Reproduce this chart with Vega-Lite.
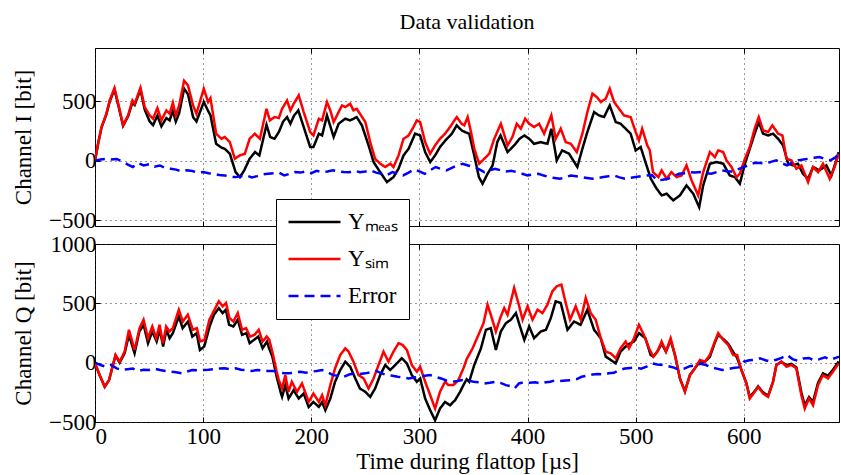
{
"$schema": "https://vega.github.io/schema/vega-lite/v6.json",
"padding": {"left": 12, "top": 10, "right": 1, "bottom": 0},
"spacing": 18,
"bounds": "flush",
"datasets": {
"d": [
{"p":"I","s":"m","t":0,"v":0},{"p":"I","s":"m","t":3,"v":150},{"p":"I","s":"m","t":6,"v":280},{"p":"I","s":"m","t":10.5,"v":390},{"p":"I","s":"m","t":13.6,"v":500},{"p":"I","s":"m","t":18,"v":600},{"p":"I","s":"m","t":22,"v":450},{"p":"I","s":"m","t":26,"v":295},{"p":"I","s":"m","t":30.6,"v":375},{"p":"I","s":"m","t":34.6,"v":490},{"p":"I","s":"m","t":36.7,"v":470},{"p":"I","s":"m","t":42,"v":600},{"p":"I","s":"m","t":46,"v":430},{"p":"I","s":"m","t":50.6,"v":330},{"p":"I","s":"m","t":53.7,"v":300},{"p":"I","s":"m","t":57.7,"v":380},{"p":"I","s":"m","t":61.4,"v":290},{"p":"I","s":"m","t":66,"v":360},{"p":"I","s":"m","t":69,"v":340},{"p":"I","s":"m","t":72,"v":420},{"p":"I","s":"m","t":74.7,"v":330},{"p":"I","s":"m","t":77.8,"v":400},{"p":"I","s":"m","t":82.4,"v":607},{"p":"I","s":"m","t":86,"v":560},{"p":"I","s":"m","t":90.7,"v":368},{"p":"I","s":"m","t":93.8,"v":331},{"p":"I","s":"m","t":100.6,"v":495},{"p":"I","s":"m","t":104.6,"v":420},{"p":"I","s":"m","t":106.8,"v":382},{"p":"I","s":"m","t":112,"v":143},{"p":"I","s":"m","t":117,"v":110},{"p":"I","s":"m","t":120,"v":101},{"p":"I","s":"m","t":124.7,"v":59},{"p":"I","s":"m","t":130,"v":-96},{"p":"I","s":"m","t":134,"v":-138},{"p":"I","s":"m","t":138,"v":-81},{"p":"I","s":"m","t":143,"v":17},{"p":"I","s":"m","t":148,"v":73},{"p":"I","s":"m","t":152,"v":45},{"p":"I","s":"m","t":158.6,"v":303},{"p":"I","s":"m","t":162,"v":200},{"p":"I","s":"m","t":166,"v":185},{"p":"I","s":"m","t":170,"v":242},{"p":"I","s":"m","t":174,"v":330},{"p":"I","s":"m","t":177.6,"v":368},{"p":"I","s":"m","t":180.7,"v":312},{"p":"I","s":"m","t":184,"v":380},{"p":"I","s":"m","t":188,"v":424},{"p":"I","s":"m","t":193,"v":284},{"p":"I","s":"m","t":199,"v":115},{"p":"I","s":"m","t":202,"v":115},{"p":"I","s":"m","t":207,"v":228},{"p":"I","s":"m","t":210,"v":213},{"p":"I","s":"m","t":214.5,"v":382},{"p":"I","s":"m","t":220.7,"v":200},{"p":"I","s":"m","t":225.3,"v":312},{"p":"I","s":"m","t":231.4,"v":354},{"p":"I","s":"m","t":236,"v":340},{"p":"I","s":"m","t":242,"v":368},{"p":"I","s":"m","t":246.8,"v":298},{"p":"I","s":"m","t":253,"v":129},{"p":"I","s":"m","t":257.6,"v":-11},{"p":"I","s":"m","t":263.7,"v":-96},{"p":"I","s":"m","t":270,"v":-180},{"p":"I","s":"m","t":276,"v":-138},{"p":"I","s":"m","t":280.7,"v":-67},{"p":"I","s":"m","t":285.3,"v":45},{"p":"I","s":"m","t":290,"v":101},{"p":"I","s":"m","t":296,"v":228},{"p":"I","s":"m","t":300.7,"v":213},{"p":"I","s":"m","t":305.3,"v":73},{"p":"I","s":"m","t":310,"v":-11},{"p":"I","s":"m","t":314.5,"v":45},{"p":"I","s":"m","t":319,"v":115},{"p":"I","s":"m","t":324,"v":171},{"p":"I","s":"m","t":330,"v":228},{"p":"I","s":"m","t":334.5,"v":298},{"p":"I","s":"m","t":339,"v":256},{"p":"I","s":"m","t":342,"v":242},{"p":"I","s":"m","t":346,"v":228},{"p":"I","s":"m","t":350.7,"v":45},{"p":"I","s":"m","t":355,"v":-138},{"p":"I","s":"m","t":358.4,"v":-194},{"p":"I","s":"m","t":363,"v":-110},{"p":"I","s":"m","t":367.7,"v":-39},{"p":"I","s":"m","t":372,"v":157},{"p":"I","s":"m","t":375,"v":213},{"p":"I","s":"m","t":381.5,"v":73},{"p":"I","s":"m","t":387.6,"v":129},{"p":"I","s":"m","t":392.6,"v":185},{"p":"I","s":"m","t":397,"v":213},{"p":"I","s":"m","t":401.5,"v":185},{"p":"I","s":"m","t":406,"v":143},{"p":"I","s":"m","t":412,"v":157},{"p":"I","s":"m","t":418.4,"v":143},{"p":"I","s":"m","t":422,"v":270},{"p":"I","s":"m","t":427,"v":3},{"p":"I","s":"m","t":432,"v":87},{"p":"I","s":"m","t":438.4,"v":59},{"p":"I","s":"m","t":446,"v":-53},{"p":"I","s":"m","t":450.7,"v":101},{"p":"I","s":"m","t":455.3,"v":242},{"p":"I","s":"m","t":461.5,"v":410},{"p":"I","s":"m","t":466,"v":382},{"p":"I","s":"m","t":470.7,"v":368},{"p":"I","s":"m","t":476,"v":466},{"p":"I","s":"m","t":481.5,"v":326},{"p":"I","s":"m","t":486,"v":312},{"p":"I","s":"m","t":490.7,"v":270},{"p":"I","s":"m","t":495.3,"v":228},{"p":"I","s":"m","t":500,"v":87},{"p":"I","s":"m","t":504.6,"v":115},{"p":"I","s":"m","t":509,"v":-11},{"p":"I","s":"m","t":514,"v":-152},{"p":"I","s":"m","t":519.4,"v":-236},{"p":"I","s":"m","t":524,"v":-292},{"p":"I","s":"m","t":528.6,"v":-278},{"p":"I","s":"m","t":534.7,"v":-334},{"p":"I","s":"m","t":540.9,"v":-292},{"p":"I","s":"m","t":547,"v":-208},{"p":"I","s":"m","t":553.2,"v":-278},{"p":"I","s":"m","t":558.7,"v":-391},{"p":"I","s":"m","t":562.4,"v":-208},{"p":"I","s":"m","t":568.6,"v":-25},{"p":"I","s":"m","t":574.7,"v":-11},{"p":"I","s":"m","t":581,"v":-25},{"p":"I","s":"m","t":587,"v":-124},{"p":"I","s":"m","t":591.7,"v":-138},{"p":"I","s":"m","t":596.3,"v":-194},{"p":"I","s":"m","t":601,"v":-25},{"p":"I","s":"m","t":605.5,"v":101},{"p":"I","s":"m","t":610,"v":228},{"p":"I","s":"m","t":613.8,"v":326},{"p":"I","s":"m","t":617.8,"v":228},{"p":"I","s":"m","t":622.4,"v":213},{"p":"I","s":"m","t":627,"v":228},{"p":"I","s":"m","t":631.7,"v":185},{"p":"I","s":"m","t":636.3,"v":129},{"p":"I","s":"m","t":641,"v":-25},{"p":"I","s":"m","t":645.5,"v":-39},{"p":"I","s":"m","t":650,"v":-25},{"p":"I","s":"m","t":654.7,"v":-110},{"p":"I","s":"m","t":659.4,"v":-152},{"p":"I","s":"m","t":664,"v":-53},{"p":"I","s":"m","t":670,"v":-81},{"p":"I","s":"m","t":676.3,"v":-39},{"p":"I","s":"m","t":681,"v":-124},{"p":"I","s":"m","t":685.5,"v":3},{"p":"I","s":"m","t":687.7,"v":73},
{"p":"I","s":"s","t":0,"v":0},{"p":"I","s":"s","t":3,"v":150},{"p":"I","s":"s","t":6,"v":280},{"p":"I","s":"s","t":10.5,"v":396},{"p":"I","s":"s","t":13.6,"v":508},{"p":"I","s":"s","t":18,"v":613},{"p":"I","s":"s","t":22,"v":460},{"p":"I","s":"s","t":26,"v":298},{"p":"I","s":"s","t":30.6,"v":382},{"p":"I","s":"s","t":34.6,"v":508},{"p":"I","s":"s","t":36.7,"v":480},{"p":"I","s":"s","t":42,"v":615},{"p":"I","s":"s","t":46,"v":452},{"p":"I","s":"s","t":50.6,"v":382},{"p":"I","s":"s","t":53.7,"v":354},{"p":"I","s":"s","t":57.7,"v":444},{"p":"I","s":"s","t":61.4,"v":340},{"p":"I","s":"s","t":66,"v":424},{"p":"I","s":"s","t":69,"v":396},{"p":"I","s":"s","t":72,"v":489},{"p":"I","s":"s","t":74.7,"v":382},{"p":"I","s":"s","t":77.8,"v":466},{"p":"I","s":"s","t":82.4,"v":674},{"p":"I","s":"s","t":86,"v":635},{"p":"I","s":"s","t":90.7,"v":466},{"p":"I","s":"s","t":93.8,"v":396},{"p":"I","s":"s","t":100.6,"v":607},{"p":"I","s":"s","t":104.6,"v":495},{"p":"I","s":"s","t":106.8,"v":528},{"p":"I","s":"s","t":112,"v":228},{"p":"I","s":"s","t":117,"v":185},{"p":"I","s":"s","t":120,"v":200},{"p":"I","s":"s","t":124.7,"v":157},{"p":"I","s":"s","t":129.3,"v":17},{"p":"I","s":"s","t":134,"v":45},{"p":"I","s":"s","t":138.6,"v":59},{"p":"I","s":"s","t":143,"v":185},{"p":"I","s":"s","t":147.8,"v":228},{"p":"I","s":"s","t":152.5,"v":185},{"p":"I","s":"s","t":158.6,"v":438},{"p":"I","s":"s","t":161.7,"v":340},{"p":"I","s":"s","t":166,"v":368},{"p":"I","s":"s","t":170,"v":360},{"p":"I","s":"s","t":173,"v":438},{"p":"I","s":"s","t":177.6,"v":508},{"p":"I","s":"s","t":180.7,"v":424},{"p":"I","s":"s","t":183.7,"v":480},{"p":"I","s":"s","t":188.4,"v":551},{"p":"I","s":"s","t":193,"v":410},{"p":"I","s":"s","t":199,"v":242},{"p":"I","s":"s","t":202,"v":213},{"p":"I","s":"s","t":207,"v":354},{"p":"I","s":"s","t":210,"v":340},{"p":"I","s":"s","t":214.5,"v":495},{"p":"I","s":"s","t":217.6,"v":424},{"p":"I","s":"s","t":220.7,"v":326},{"p":"I","s":"s","t":225.3,"v":410},{"p":"I","s":"s","t":228.4,"v":466},{"p":"I","s":"s","t":231.4,"v":452},{"p":"I","s":"s","t":236,"v":480},{"p":"I","s":"s","t":239,"v":424},{"p":"I","s":"s","t":242,"v":438},{"p":"I","s":"s","t":245,"v":396},{"p":"I","s":"s","t":250,"v":326},{"p":"I","s":"s","t":254.5,"v":157},{"p":"I","s":"s","t":259,"v":17},{"p":"I","s":"s","t":263.7,"v":-25},{"p":"I","s":"s","t":268.4,"v":-53},{"p":"I","s":"s","t":273,"v":-25},{"p":"I","s":"s","t":276,"v":-53},{"p":"I","s":"s","t":280.7,"v":45},{"p":"I","s":"s","t":285.3,"v":185},{"p":"I","s":"s","t":290,"v":213},{"p":"I","s":"s","t":294.5,"v":284},{"p":"I","s":"s","t":297.6,"v":340},{"p":"I","s":"s","t":300.7,"v":326},{"p":"I","s":"s","t":305.3,"v":157},{"p":"I","s":"s","t":309.9,"v":59},{"p":"I","s":"s","t":314.5,"v":129},{"p":"I","s":"s","t":319,"v":185},{"p":"I","s":"s","t":323.7,"v":228},{"p":"I","s":"s","t":328.3,"v":284},{"p":"I","s":"s","t":334.5,"v":368},{"p":"I","s":"s","t":339,"v":312},{"p":"I","s":"s","t":341.5,"v":298},{"p":"I","s":"s","t":344.6,"v":368},{"p":"I","s":"s","t":347.7,"v":242},{"p":"I","s":"s","t":350.7,"v":101},{"p":"I","s":"s","t":355.3,"v":-25},{"p":"I","s":"s","t":360,"v":17},{"p":"I","s":"s","t":364.6,"v":59},{"p":"I","s":"s","t":369.2,"v":185},{"p":"I","s":"s","t":375.3,"v":312},{"p":"I","s":"s","t":381.5,"v":129},{"p":"I","s":"s","t":386,"v":200},{"p":"I","s":"s","t":390,"v":312},{"p":"I","s":"s","t":393.8,"v":270},{"p":"I","s":"s","t":397.8,"v":354},{"p":"I","s":"s","t":401.5,"v":312},{"p":"I","s":"s","t":406,"v":284},{"p":"I","s":"s","t":410.7,"v":312},{"p":"I","s":"s","t":415.3,"v":228},{"p":"I","s":"s","t":418.4,"v":298},{"p":"I","s":"s","t":422,"v":382},{"p":"I","s":"s","t":426,"v":185},{"p":"I","s":"s","t":430.7,"v":270},{"p":"I","s":"s","t":435.3,"v":157},{"p":"I","s":"s","t":440,"v":143},{"p":"I","s":"s","t":445.5,"v":73},{"p":"I","s":"s","t":450.7,"v":228},{"p":"I","s":"s","t":455.3,"v":410},{"p":"I","s":"s","t":460,"v":565},{"p":"I","s":"s","t":464,"v":537},{"p":"I","s":"s","t":467.7,"v":495},{"p":"I","s":"s","t":472.3,"v":523},{"p":"I","s":"s","t":476,"v":607},{"p":"I","s":"s","t":480,"v":495},{"p":"I","s":"s","t":484.6,"v":438},{"p":"I","s":"s","t":489.2,"v":382},{"p":"I","s":"s","t":495.3,"v":368},{"p":"I","s":"s","t":500,"v":242},{"p":"I","s":"s","t":503,"v":171},{"p":"I","s":"s","t":506,"v":270},{"p":"I","s":"s","t":510.7,"v":129},{"p":"I","s":"s","t":513,"v":90},{"p":"I","s":"s","t":516,"v":-96},{"p":"I","s":"s","t":521,"v":-138},{"p":"I","s":"s","t":524,"v":-81},{"p":"I","s":"s","t":528.6,"v":-152},{"p":"I","s":"s","t":533,"v":-96},{"p":"I","s":"s","t":537.8,"v":-138},{"p":"I","s":"s","t":542.4,"v":-124},{"p":"I","s":"s","t":547,"v":-39},{"p":"I","s":"s","t":551.7,"v":-166},{"p":"I","s":"s","t":557.8,"v":-292},{"p":"I","s":"s","t":562.4,"v":-96},{"p":"I","s":"s","t":568.6,"v":73},{"p":"I","s":"s","t":573.2,"v":31},{"p":"I","s":"s","t":576.3,"v":87},{"p":"I","s":"s","t":580.9,"v":73},{"p":"I","s":"s","t":584,"v":3},{"p":"I","s":"s","t":588.6,"v":-53},{"p":"I","s":"s","t":593.2,"v":-138},{"p":"I","s":"s","t":596.3,"v":-110},{"p":"I","s":"s","t":601,"v":17},{"p":"I","s":"s","t":605.5,"v":115},{"p":"I","s":"s","t":610,"v":270},{"p":"I","s":"s","t":613.8,"v":368},{"p":"I","s":"s","t":617.8,"v":256},{"p":"I","s":"s","t":622.4,"v":242},{"p":"I","s":"s","t":626.4,"v":298},{"p":"I","s":"s","t":631.7,"v":228},{"p":"I","s":"s","t":635.7,"v":213},{"p":"I","s":"s","t":639.4,"v":17},{"p":"I","s":"s","t":644,"v":3},{"p":"I","s":"s","t":648.6,"v":-67},{"p":"I","s":"s","t":653.2,"v":-39},{"p":"I","s":"s","t":659.4,"v":-180},{"p":"I","s":"s","t":664,"v":-53},{"p":"I","s":"s","t":668.6,"v":-96},{"p":"I","s":"s","t":673.2,"v":-25},{"p":"I","s":"s","t":679.4,"v":-152},{"p":"I","s":"s","t":684,"v":-53},{"p":"I","s":"s","t":687.7,"v":59},
{"p":"I","s":"e","t":0,"v":0},{"p":"I","s":"e","t":5,"v":10},{"p":"I","s":"e","t":10,"v":15},{"p":"I","s":"e","t":15,"v":10},{"p":"I","s":"e","t":20,"v":15},{"p":"I","s":"e","t":25,"v":-5},{"p":"I","s":"e","t":30,"v":-30},{"p":"I","s":"e","t":35,"v":-53},{"p":"I","s":"e","t":40,"v":-20},{"p":"I","s":"e","t":45,"v":-40},{"p":"I","s":"e","t":50,"v":-30},{"p":"I","s":"e","t":55,"v":-50},{"p":"I","s":"e","t":60,"v":-40},{"p":"I","s":"e","t":65,"v":-60},{"p":"I","s":"e","t":70,"v":-67},{"p":"I","s":"e","t":75,"v":-75},{"p":"I","s":"e","t":80,"v":-90},{"p":"I","s":"e","t":85,"v":-80},{"p":"I","s":"e","t":90,"v":-87},{"p":"I","s":"e","t":95,"v":-100},{"p":"I","s":"e","t":100,"v":-96},{"p":"I","s":"e","t":105,"v":-105},{"p":"I","s":"e","t":110,"v":-110},{"p":"I","s":"e","t":115,"v":-120},{"p":"I","s":"e","t":120,"v":-124},{"p":"I","s":"e","t":125,"v":-135},{"p":"I","s":"e","t":130,"v":-138},{"p":"I","s":"e","t":135,"v":-130},{"p":"I","s":"e","t":140,"v":-124},{"p":"I","s":"e","t":145,"v":-140},{"p":"I","s":"e","t":150,"v":-130},{"p":"I","s":"e","t":155,"v":-115},{"p":"I","s":"e","t":160,"v":-110},{"p":"I","s":"e","t":165,"v":-105},{"p":"I","s":"e","t":170,"v":-100},{"p":"I","s":"e","t":175,"v":-124},{"p":"I","s":"e","t":180,"v":-110},{"p":"I","s":"e","t":185,"v":-96},{"p":"I","s":"e","t":190,"v":-100},{"p":"I","s":"e","t":195,"v":-90},{"p":"I","s":"e","t":200,"v":-104},{"p":"I","s":"e","t":205,"v":-85},{"p":"I","s":"e","t":210,"v":-96},{"p":"I","s":"e","t":215,"v":-90},{"p":"I","s":"e","t":220,"v":-81},{"p":"I","s":"e","t":225,"v":-90},{"p":"I","s":"e","t":230,"v":-95},{"p":"I","s":"e","t":235,"v":-96},{"p":"I","s":"e","t":240,"v":-85},{"p":"I","s":"e","t":245,"v":-96},{"p":"I","s":"e","t":250,"v":-90},{"p":"I","s":"e","t":255,"v":-81},{"p":"I","s":"e","t":260,"v":-100},{"p":"I","s":"e","t":265,"v":-110},{"p":"I","s":"e","t":270,"v":-120},{"p":"I","s":"e","t":275,"v":-96},{"p":"I","s":"e","t":280,"v":-110},{"p":"I","s":"e","t":285,"v":-124},{"p":"I","s":"e","t":290,"v":-100},{"p":"I","s":"e","t":295,"v":-73},{"p":"I","s":"e","t":300,"v":-90},{"p":"I","s":"e","t":305,"v":-110},{"p":"I","s":"e","t":310,"v":-80},{"p":"I","s":"e","t":315,"v":-53},{"p":"I","s":"e","t":320,"v":-70},{"p":"I","s":"e","t":325,"v":-81},{"p":"I","s":"e","t":330,"v":-60},{"p":"I","s":"e","t":335,"v":-39},{"p":"I","s":"e","t":340,"v":-25},{"p":"I","s":"e","t":345,"v":-40},{"p":"I","s":"e","t":350,"v":-53},{"p":"I","s":"e","t":355,"v":-70},{"p":"I","s":"e","t":360,"v":-96},{"p":"I","s":"e","t":365,"v":-80},{"p":"I","s":"e","t":370,"v":-67},{"p":"I","s":"e","t":375,"v":-80},{"p":"I","s":"e","t":380,"v":-90},{"p":"I","s":"e","t":385,"v":-85},{"p":"I","s":"e","t":390,"v":-96},{"p":"I","s":"e","t":395,"v":-110},{"p":"I","s":"e","t":400,"v":-124},{"p":"I","s":"e","t":405,"v":-115},{"p":"I","s":"e","t":410,"v":-110},{"p":"I","s":"e","t":415,"v":-125},{"p":"I","s":"e","t":420,"v":-138},{"p":"I","s":"e","t":425,"v":-145},{"p":"I","s":"e","t":430,"v":-152},{"p":"I","s":"e","t":435,"v":-140},{"p":"I","s":"e","t":440,"v":-124},{"p":"I","s":"e","t":445,"v":-130},{"p":"I","s":"e","t":450,"v":-138},{"p":"I","s":"e","t":455,"v":-145},{"p":"I","s":"e","t":460,"v":-152},{"p":"I","s":"e","t":465,"v":-145},{"p":"I","s":"e","t":470,"v":-138},{"p":"I","s":"e","t":475,"v":-130},{"p":"I","s":"e","t":480,"v":-124},{"p":"I","s":"e","t":485,"v":-140},{"p":"I","s":"e","t":490,"v":-152},{"p":"I","s":"e","t":495,"v":-145},{"p":"I","s":"e","t":500,"v":-138},{"p":"I","s":"e","t":505,"v":-130},{"p":"I","s":"e","t":510,"v":-124},{"p":"I","s":"e","t":515,"v":-120},{"p":"I","s":"e","t":520,"v":-166},{"p":"I","s":"e","t":525,"v":-160},{"p":"I","s":"e","t":530,"v":-152},{"p":"I","s":"e","t":535,"v":-130},{"p":"I","s":"e","t":540,"v":-110},{"p":"I","s":"e","t":545,"v":-105},{"p":"I","s":"e","t":550,"v":-96},{"p":"I","s":"e","t":555,"v":-100},{"p":"I","s":"e","t":560,"v":-96},{"p":"I","s":"e","t":565,"v":-105},{"p":"I","s":"e","t":570,"v":-110},{"p":"I","s":"e","t":575,"v":-95},{"p":"I","s":"e","t":580,"v":-81},{"p":"I","s":"e","t":585,"v":-90},{"p":"I","s":"e","t":590,"v":-90},{"p":"I","s":"e","t":595,"v":-70},{"p":"I","s":"e","t":600,"v":-53},{"p":"I","s":"e","t":605,"v":-35},{"p":"I","s":"e","t":610,"v":-17},{"p":"I","s":"e","t":615,"v":-20},{"p":"I","s":"e","t":620,"v":-25},{"p":"I","s":"e","t":625,"v":-10},{"p":"I","s":"e","t":630,"v":3},{"p":"I","s":"e","t":635,"v":-20},{"p":"I","s":"e","t":640,"v":-39},{"p":"I","s":"e","t":645,"v":-15},{"p":"I","s":"e","t":650,"v":3},{"p":"I","s":"e","t":655,"v":10},{"p":"I","s":"e","t":660,"v":17},{"p":"I","s":"e","t":665,"v":25},{"p":"I","s":"e","t":670,"v":31},{"p":"I","s":"e","t":675,"v":15},{"p":"I","s":"e","t":680,"v":3},{"p":"I","s":"e","t":685,"v":30},{"p":"I","s":"e","t":688,"v":59},
{"p":"Q","s":"m","t":0,"v":-6},{"p":"Q","s":"m","t":4.3,"v":-105},{"p":"Q","s":"m","t":9,"v":-203},{"p":"Q","s":"m","t":13,"v":-147},{"p":"Q","s":"m","t":16.6,"v":-20},{"p":"Q","s":"m","t":19,"v":60},{"p":"Q","s":"m","t":22.8,"v":0},{"p":"Q","s":"m","t":27.4,"v":80},{"p":"Q","s":"m","t":31.4,"v":234},{"p":"Q","s":"m","t":36.6,"v":79},{"p":"Q","s":"m","t":41,"v":263},{"p":"Q","s":"m","t":45,"v":319},{"p":"Q","s":"m","t":49,"v":164},{"p":"Q","s":"m","t":53,"v":263},{"p":"Q","s":"m","t":57,"v":178},{"p":"Q","s":"m","t":60,"v":277},{"p":"Q","s":"m","t":63,"v":136},{"p":"Q","s":"m","t":66,"v":277},{"p":"Q","s":"m","t":69,"v":206},{"p":"Q","s":"m","t":72,"v":249},{"p":"Q","s":"m","t":77.5,"v":390},{"p":"Q","s":"m","t":81,"v":291},{"p":"Q","s":"m","t":86,"v":347},{"p":"Q","s":"m","t":90,"v":220},{"p":"Q","s":"m","t":94,"v":249},{"p":"Q","s":"m","t":97,"v":107},{"p":"Q","s":"m","t":101,"v":136},{"p":"Q","s":"m","t":106,"v":305},{"p":"Q","s":"m","t":110,"v":404},{"p":"Q","s":"m","t":114.5,"v":460},{"p":"Q","s":"m","t":118,"v":418},{"p":"Q","s":"m","t":121,"v":446},{"p":"Q","s":"m","t":124,"v":319},{"p":"Q","s":"m","t":128,"v":305},{"p":"Q","s":"m","t":132,"v":362},{"p":"Q","s":"m","t":136,"v":234},{"p":"Q","s":"m","t":140,"v":249},{"p":"Q","s":"m","t":143,"v":164},{"p":"Q","s":"m","t":147,"v":192},{"p":"Q","s":"m","t":151,"v":220},{"p":"Q","s":"m","t":155,"v":121},{"p":"Q","s":"m","t":159,"v":178},{"p":"Q","s":"m","t":161,"v":121},{"p":"Q","s":"m","t":164,"v":51},{"p":"Q","s":"m","t":168,"v":-119},{"p":"Q","s":"m","t":172,"v":-260},{"p":"Q","s":"m","t":173,"v":-288},{"p":"Q","s":"m","t":176,"v":-189},{"p":"Q","s":"m","t":179,"v":-302},{"p":"Q","s":"m","t":183.7,"v":-232},{"p":"Q","s":"m","t":188.4,"v":-302},{"p":"Q","s":"m","t":193,"v":-260},{"p":"Q","s":"m","t":197.6,"v":-373},{"p":"Q","s":"m","t":202,"v":-331},{"p":"Q","s":"m","t":207,"v":-373},{"p":"Q","s":"m","t":210,"v":-331},{"p":"Q","s":"m","t":213,"v":-401},{"p":"Q","s":"m","t":217.6,"v":-302},{"p":"Q","s":"m","t":222,"v":-161},{"p":"Q","s":"m","t":226.8,"v":-62},{"p":"Q","s":"m","t":231.4,"v":8},{"p":"Q","s":"m","t":236,"v":-34},{"p":"Q","s":"m","t":240.7,"v":-133},{"p":"Q","s":"m","t":245,"v":-218},{"p":"Q","s":"m","t":250,"v":-246},{"p":"Q","s":"m","t":254.5,"v":-288},{"p":"Q","s":"m","t":259,"v":-218},{"p":"Q","s":"m","t":263.7,"v":-105},{"p":"Q","s":"m","t":268.4,"v":-20},{"p":"Q","s":"m","t":273,"v":-62},{"p":"Q","s":"m","t":277.6,"v":-20},{"p":"Q","s":"m","t":283.7,"v":37},{"p":"Q","s":"m","t":288.4,"v":-6},{"p":"Q","s":"m","t":293,"v":-105},{"p":"Q","s":"m","t":297.6,"v":-161},{"p":"Q","s":"m","t":300.7,"v":-133},{"p":"Q","s":"m","t":305.3,"v":-302},{"p":"Q","s":"m","t":310,"v":-401},{"p":"Q","s":"m","t":314.5,"v":-486},{"p":"Q","s":"m","t":319,"v":-387},{"p":"Q","s":"m","t":323.7,"v":-331},{"p":"Q","s":"m","t":328.3,"v":-359},{"p":"Q","s":"m","t":333,"v":-316},{"p":"Q","s":"m","t":337.6,"v":-246},{"p":"Q","s":"m","t":340.7,"v":-189},{"p":"Q","s":"m","t":343.7,"v":-140},{"p":"Q","s":"m","t":346,"v":-161},{"p":"Q","s":"m","t":350.7,"v":-20},{"p":"Q","s":"m","t":356.9,"v":121},{"p":"Q","s":"m","t":361.5,"v":277},{"p":"Q","s":"m","t":366,"v":291},{"p":"Q","s":"m","t":370.7,"v":107},{"p":"Q","s":"m","t":375.3,"v":263},{"p":"Q","s":"m","t":380,"v":333},{"p":"Q","s":"m","t":384.6,"v":362},{"p":"Q","s":"m","t":389.2,"v":418},{"p":"Q","s":"m","t":394,"v":277},{"p":"Q","s":"m","t":397,"v":192},{"p":"Q","s":"m","t":401.5,"v":305},{"p":"Q","s":"m","t":406,"v":206},{"p":"Q","s":"m","t":412.3,"v":263},{"p":"Q","s":"m","t":417,"v":277},{"p":"Q","s":"m","t":421.5,"v":376},{"p":"Q","s":"m","t":426,"v":517},{"p":"Q","s":"m","t":430.7,"v":503},{"p":"Q","s":"m","t":436.9,"v":277},{"p":"Q","s":"m","t":443,"v":347},{"p":"Q","s":"m","t":449,"v":319},{"p":"Q","s":"m","t":455.3,"v":446},{"p":"Q","s":"m","t":461.5,"v":277},{"p":"Q","s":"m","t":467.7,"v":206},{"p":"Q","s":"m","t":472.3,"v":51},{"p":"Q","s":"m","t":476.9,"v":23},{"p":"Q","s":"m","t":481.5,"v":-6},{"p":"Q","s":"m","t":486,"v":93},{"p":"Q","s":"m","t":492.3,"v":150},{"p":"Q","s":"m","t":498.4,"v":178},{"p":"Q","s":"m","t":503,"v":249},{"p":"Q","s":"m","t":509,"v":206},{"p":"Q","s":"m","t":513.8,"v":65},{"p":"Q","s":"m","t":516.3,"v":51},{"p":"Q","s":"m","t":520,"v":93},{"p":"Q","s":"m","t":524,"v":160},{"p":"Q","s":"m","t":528,"v":93},{"p":"Q","s":"m","t":532.3,"v":190},{"p":"Q","s":"m","t":536.3,"v":65},{"p":"Q","s":"m","t":540.9,"v":-133},{"p":"Q","s":"m","t":545.5,"v":-240},{"p":"Q","s":"m","t":550.1,"v":-105},{"p":"Q","s":"m","t":554.7,"v":-48},{"p":"Q","s":"m","t":559.4,"v":10},{"p":"Q","s":"m","t":564,"v":8},{"p":"Q","s":"m","t":568.6,"v":50},{"p":"Q","s":"m","t":573.2,"v":170},{"p":"Q","s":"m","t":576.3,"v":235},{"p":"Q","s":"m","t":580.9,"v":200},{"p":"Q","s":"m","t":585.5,"v":160},{"p":"Q","s":"m","t":590.1,"v":90},{"p":"Q","s":"m","t":593.8,"v":40},{"p":"Q","s":"m","t":597.8,"v":-62},{"p":"Q","s":"m","t":602.4,"v":-175},{"p":"Q","s":"m","t":605.5,"v":-290},{"p":"Q","s":"m","t":610.1,"v":-240},{"p":"Q","s":"m","t":613.2,"v":-200},{"p":"Q","s":"m","t":617.8,"v":-250},{"p":"Q","s":"m","t":622.4,"v":-280},{"p":"Q","s":"m","t":627,"v":-161},{"p":"Q","s":"m","t":630.1,"v":-20},{"p":"Q","s":"m","t":634.7,"v":8},{"p":"Q","s":"m","t":639.4,"v":-20},{"p":"Q","s":"m","t":644,"v":-10},{"p":"Q","s":"m","t":648.6,"v":-40},{"p":"Q","s":"m","t":653.2,"v":-250},{"p":"Q","s":"m","t":656.3,"v":-360},{"p":"Q","s":"m","t":660.3,"v":-290},{"p":"Q","s":"m","t":664,"v":-330},{"p":"Q","s":"m","t":668.6,"v":-170},{"p":"Q","s":"m","t":673.2,"v":-90},{"p":"Q","s":"m","t":677.8,"v":-110},{"p":"Q","s":"m","t":682.4,"v":-60},{"p":"Q","s":"m","t":687.7,"v":10},
{"p":"Q","s":"s","t":0,"v":-6},{"p":"Q","s":"s","t":4.3,"v":-105},{"p":"Q","s":"s","t":9,"v":-203},{"p":"Q","s":"s","t":13,"v":-147},{"p":"Q","s":"s","t":16.6,"v":-20},{"p":"Q","s":"s","t":19,"v":65},{"p":"Q","s":"s","t":22.8,"v":8},{"p":"Q","s":"s","t":27.4,"v":93},{"p":"Q","s":"s","t":31.4,"v":277},{"p":"Q","s":"s","t":36.6,"v":107},{"p":"Q","s":"s","t":41.2,"v":291},{"p":"Q","s":"s","t":44.9,"v":362},{"p":"Q","s":"s","t":49,"v":206},{"p":"Q","s":"s","t":53,"v":305},{"p":"Q","s":"s","t":56.6,"v":206},{"p":"Q","s":"s","t":59.7,"v":319},{"p":"Q","s":"s","t":62.8,"v":164},{"p":"Q","s":"s","t":65.8,"v":305},{"p":"Q","s":"s","t":68.9,"v":263},{"p":"Q","s":"s","t":72,"v":291},{"p":"Q","s":"s","t":77.5,"v":446},{"p":"Q","s":"s","t":81.2,"v":347},{"p":"Q","s":"s","t":85.8,"v":404},{"p":"Q","s":"s","t":90.5,"v":277},{"p":"Q","s":"s","t":94.2,"v":291},{"p":"Q","s":"s","t":97.2,"v":178},{"p":"Q","s":"s","t":101.2,"v":192},{"p":"Q","s":"s","t":105.8,"v":362},{"p":"Q","s":"s","t":110.5,"v":446},{"p":"Q","s":"s","t":114.5,"v":517},{"p":"Q","s":"s","t":118.1,"v":475},{"p":"Q","s":"s","t":121.2,"v":503},{"p":"Q","s":"s","t":124.3,"v":376},{"p":"Q","s":"s","t":128,"v":347},{"p":"Q","s":"s","t":132,"v":418},{"p":"Q","s":"s","t":136,"v":277},{"p":"Q","s":"s","t":139.7,"v":291},{"p":"Q","s":"s","t":143.4,"v":220},{"p":"Q","s":"s","t":147.4,"v":234},{"p":"Q","s":"s","t":151.4,"v":277},{"p":"Q","s":"s","t":155,"v":178},{"p":"Q","s":"s","t":158.8,"v":220},{"p":"Q","s":"s","t":161.2,"v":192},{"p":"Q","s":"s","t":164.3,"v":79},{"p":"Q","s":"s","t":168,"v":-76},{"p":"Q","s":"s","t":170,"v":-147},{"p":"Q","s":"s","t":173,"v":-218},{"p":"Q","s":"s","t":176,"v":-105},{"p":"Q","s":"s","t":179,"v":-246},{"p":"Q","s":"s","t":182,"v":-161},{"p":"Q","s":"s","t":186.8,"v":-246},{"p":"Q","s":"s","t":191.4,"v":-175},{"p":"Q","s":"s","t":197.6,"v":-331},{"p":"Q","s":"s","t":202,"v":-260},{"p":"Q","s":"s","t":207,"v":-331},{"p":"Q","s":"s","t":210,"v":-274},{"p":"Q","s":"s","t":213,"v":-359},{"p":"Q","s":"s","t":217.6,"v":-189},{"p":"Q","s":"s","t":222,"v":-48},{"p":"Q","s":"s","t":226.8,"v":65},{"p":"Q","s":"s","t":231.4,"v":121},{"p":"Q","s":"s","t":234.5,"v":93},{"p":"Q","s":"s","t":239,"v":8},{"p":"Q","s":"s","t":243.7,"v":-105},{"p":"Q","s":"s","t":248.4,"v":-133},{"p":"Q","s":"s","t":253,"v":-218},{"p":"Q","s":"s","t":257.6,"v":-133},{"p":"Q","s":"s","t":262.2,"v":-20},{"p":"Q","s":"s","t":266.8,"v":93},{"p":"Q","s":"s","t":271.4,"v":8},{"p":"Q","s":"s","t":276,"v":93},{"p":"Q","s":"s","t":280.7,"v":164},{"p":"Q","s":"s","t":284.4,"v":150},{"p":"Q","s":"s","t":288.4,"v":107},{"p":"Q","s":"s","t":293,"v":-20},{"p":"Q","s":"s","t":297.6,"v":-76},{"p":"Q","s":"s","t":300.7,"v":-34},{"p":"Q","s":"s","t":305.3,"v":-161},{"p":"Q","s":"s","t":310,"v":-274},{"p":"Q","s":"s","t":314.5,"v":-387},{"p":"Q","s":"s","t":319,"v":-246},{"p":"Q","s":"s","t":323.7,"v":-161},{"p":"Q","s":"s","t":326.8,"v":-189},{"p":"Q","s":"s","t":331.4,"v":-189},{"p":"Q","s":"s","t":336,"v":-147},{"p":"Q","s":"s","t":340.7,"v":-48},{"p":"Q","s":"s","t":343.7,"v":30},{"p":"Q","s":"s","t":349.2,"v":121},{"p":"Q","s":"s","t":355.3,"v":249},{"p":"Q","s":"s","t":359.3,"v":333},{"p":"Q","s":"s","t":363,"v":489},{"p":"Q","s":"s","t":366,"v":404},{"p":"Q","s":"s","t":370.7,"v":263},{"p":"Q","s":"s","t":374.7,"v":376},{"p":"Q","s":"s","t":378.4,"v":460},{"p":"Q","s":"s","t":381.5,"v":404},{"p":"Q","s":"s","t":387.6,"v":630},{"p":"Q","s":"s","t":392.3,"v":475},{"p":"Q","s":"s","t":395.4,"v":362},{"p":"Q","s":"s","t":400,"v":475},{"p":"Q","s":"s","t":404.6,"v":362},{"p":"Q","s":"s","t":409.2,"v":446},{"p":"Q","s":"s","t":413.8,"v":418},{"p":"Q","s":"s","t":418.4,"v":489},{"p":"Q","s":"s","t":423,"v":602},{"p":"Q","s":"s","t":427,"v":644},{"p":"Q","s":"s","t":431.3,"v":658},{"p":"Q","s":"s","t":435.3,"v":503},{"p":"Q","s":"s","t":439.3,"v":362},{"p":"Q","s":"s","t":444.5,"v":475},{"p":"Q","s":"s","t":449.2,"v":362},{"p":"Q","s":"s","t":453.8,"v":545},{"p":"Q","s":"s","t":458.4,"v":418},{"p":"Q","s":"s","t":463,"v":362},{"p":"Q","s":"s","t":467.7,"v":206},{"p":"Q","s":"s","t":472.3,"v":93},{"p":"Q","s":"s","t":476.9,"v":79},{"p":"Q","s":"s","t":481.5,"v":37},{"p":"Q","s":"s","t":486,"v":121},{"p":"Q","s":"s","t":490.7,"v":178},{"p":"Q","s":"s","t":493.8,"v":121},{"p":"Q","s":"s","t":498.4,"v":206},{"p":"Q","s":"s","t":503,"v":319},{"p":"Q","s":"s","t":507.6,"v":234},{"p":"Q","s":"s","t":512.3,"v":121},{"p":"Q","s":"s","t":516.3,"v":51},{"p":"Q","s":"s","t":520,"v":93},{"p":"Q","s":"s","t":524,"v":178},{"p":"Q","s":"s","t":528,"v":93},{"p":"Q","s":"s","t":532.3,"v":206},{"p":"Q","s":"s","t":536.3,"v":65},{"p":"Q","s":"s","t":540.9,"v":-133},{"p":"Q","s":"s","t":545.5,"v":-246},{"p":"Q","s":"s","t":550.1,"v":-105},{"p":"Q","s":"s","t":554.7,"v":-48},{"p":"Q","s":"s","t":559.4,"v":23},{"p":"Q","s":"s","t":564,"v":8},{"p":"Q","s":"s","t":568.6,"v":65},{"p":"Q","s":"s","t":573.2,"v":178},{"p":"Q","s":"s","t":576.3,"v":249},{"p":"Q","s":"s","t":580.9,"v":192},{"p":"Q","s":"s","t":585.5,"v":150},{"p":"Q","s":"s","t":590.1,"v":65},{"p":"Q","s":"s","t":593.8,"v":65},{"p":"Q","s":"s","t":597.8,"v":-62},{"p":"Q","s":"s","t":602.4,"v":-175},{"p":"Q","s":"s","t":605.5,"v":-302},{"p":"Q","s":"s","t":610.1,"v":-246},{"p":"Q","s":"s","t":613.2,"v":-203},{"p":"Q","s":"s","t":617.8,"v":-260},{"p":"Q","s":"s","t":622.4,"v":-288},{"p":"Q","s":"s","t":627,"v":-161},{"p":"Q","s":"s","t":630.1,"v":-20},{"p":"Q","s":"s","t":634.7,"v":8},{"p":"Q","s":"s","t":639.4,"v":-34},{"p":"Q","s":"s","t":644,"v":-20},{"p":"Q","s":"s","t":648.6,"v":-48},{"p":"Q","s":"s","t":653.2,"v":-274},{"p":"Q","s":"s","t":656.3,"v":-387},{"p":"Q","s":"s","t":660.3,"v":-302},{"p":"Q","s":"s","t":664,"v":-359},{"p":"Q","s":"s","t":668.6,"v":-189},{"p":"Q","s":"s","t":673.2,"v":-105},{"p":"Q","s":"s","t":677.8,"v":-133},{"p":"Q","s":"s","t":682.4,"v":-76},{"p":"Q","s":"s","t":687.7,"v":-6},
{"p":"Q","s":"e","t":0,"v":0},{"p":"Q","s":"e","t":5,"v":-20},{"p":"Q","s":"e","t":10,"v":-34},{"p":"Q","s":"e","t":15,"v":-20},{"p":"Q","s":"e","t":20,"v":-48},{"p":"Q","s":"e","t":25,"v":-62},{"p":"Q","s":"e","t":30,"v":-55},{"p":"Q","s":"e","t":35,"v":-50},{"p":"Q","s":"e","t":40,"v":-70},{"p":"Q","s":"e","t":45,"v":-60},{"p":"Q","s":"e","t":50,"v":-62},{"p":"Q","s":"e","t":55,"v":-50},{"p":"Q","s":"e","t":60,"v":-62},{"p":"Q","s":"e","t":65,"v":-70},{"p":"Q","s":"e","t":70,"v":-76},{"p":"Q","s":"e","t":75,"v":-80},{"p":"Q","s":"e","t":80,"v":-90},{"p":"Q","s":"e","t":85,"v":-75},{"p":"Q","s":"e","t":90,"v":-62},{"p":"Q","s":"e","t":95,"v":-65},{"p":"Q","s":"e","t":100,"v":-62},{"p":"Q","s":"e","t":105,"v":-60},{"p":"Q","s":"e","t":110,"v":-54},{"p":"Q","s":"e","t":115,"v":-50},{"p":"Q","s":"e","t":120,"v":-48},{"p":"Q","s":"e","t":125,"v":-55},{"p":"Q","s":"e","t":130,"v":-48},{"p":"Q","s":"e","t":135,"v":-60},{"p":"Q","s":"e","t":140,"v":-62},{"p":"Q","s":"e","t":145,"v":-70},{"p":"Q","s":"e","t":150,"v":-62},{"p":"Q","s":"e","t":155,"v":-65},{"p":"Q","s":"e","t":160,"v":-70},{"p":"Q","s":"e","t":165,"v":-70},{"p":"Q","s":"e","t":170,"v":-76},{"p":"Q","s":"e","t":175,"v":-90},{"p":"Q","s":"e","t":180,"v":-90},{"p":"Q","s":"e","t":185,"v":-80},{"p":"Q","s":"e","t":190,"v":-76},{"p":"Q","s":"e","t":195,"v":-85},{"p":"Q","s":"e","t":200,"v":-76},{"p":"Q","s":"e","t":205,"v":-70},{"p":"Q","s":"e","t":210,"v":-62},{"p":"Q","s":"e","t":215,"v":-80},{"p":"Q","s":"e","t":220,"v":-105},{"p":"Q","s":"e","t":225,"v":-110},{"p":"Q","s":"e","t":230,"v":-119},{"p":"Q","s":"e","t":235,"v":-100},{"p":"Q","s":"e","t":240,"v":-90},{"p":"Q","s":"e","t":245,"v":-95},{"p":"Q","s":"e","t":250,"v":-90},{"p":"Q","s":"e","t":255,"v":-80},{"p":"Q","s":"e","t":260,"v":-70},{"p":"Q","s":"e","t":265,"v":-90},{"p":"Q","s":"e","t":270,"v":-105},{"p":"Q","s":"e","t":275,"v":-110},{"p":"Q","s":"e","t":280,"v":-119},{"p":"Q","s":"e","t":285,"v":-125},{"p":"Q","s":"e","t":290,"v":-133},{"p":"Q","s":"e","t":295,"v":-125},{"p":"Q","s":"e","t":300,"v":-119},{"p":"Q","s":"e","t":305,"v":-110},{"p":"Q","s":"e","t":310,"v":-105},{"p":"Q","s":"e","t":315,"v":-120},{"p":"Q","s":"e","t":320,"v":-133},{"p":"Q","s":"e","t":325,"v":-150},{"p":"Q","s":"e","t":330,"v":-161},{"p":"Q","s":"e","t":335,"v":-155},{"p":"Q","s":"e","t":340,"v":-147},{"p":"Q","s":"e","t":345,"v":-150},{"p":"Q","s":"e","t":350,"v":-161},{"p":"Q","s":"e","t":355,"v":-165},{"p":"Q","s":"e","t":360,"v":-175},{"p":"Q","s":"e","t":365,"v":-170},{"p":"Q","s":"e","t":370,"v":-161},{"p":"Q","s":"e","t":375,"v":-170},{"p":"Q","s":"e","t":380,"v":-189},{"p":"Q","s":"e","t":385,"v":-200},{"p":"Q","s":"e","t":388,"v":-217},{"p":"Q","s":"e","t":392,"v":-175},{"p":"Q","s":"e","t":397,"v":-165},{"p":"Q","s":"e","t":402,"v":-170},{"p":"Q","s":"e","t":407,"v":-165},{"p":"Q","s":"e","t":412,"v":-175},{"p":"Q","s":"e","t":417,"v":-165},{"p":"Q","s":"e","t":421,"v":-161},{"p":"Q","s":"e","t":425,"v":-150},{"p":"Q","s":"e","t":430,"v":-155},{"p":"Q","s":"e","t":435,"v":-150},{"p":"Q","s":"e","t":440,"v":-147},{"p":"Q","s":"e","t":445,"v":-140},{"p":"Q","s":"e","t":450,"v":-119},{"p":"Q","s":"e","t":455,"v":-110},{"p":"Q","s":"e","t":460,"v":-100},{"p":"Q","s":"e","t":465,"v":-95},{"p":"Q","s":"e","t":470,"v":-100},{"p":"Q","s":"e","t":475,"v":-90},{"p":"Q","s":"e","t":480,"v":-85},{"p":"Q","s":"e","t":485,"v":-62},{"p":"Q","s":"e","t":490,"v":-50},{"p":"Q","s":"e","t":495,"v":-45},{"p":"Q","s":"e","t":500,"v":-40},{"p":"Q","s":"e","t":505,"v":-50},{"p":"Q","s":"e","t":510,"v":-34},{"p":"Q","s":"e","t":515,"v":-6},{"p":"Q","s":"e","t":520,"v":-15},{"p":"Q","s":"e","t":525,"v":-20},{"p":"Q","s":"e","t":530,"v":-30},{"p":"Q","s":"e","t":535,"v":-40},{"p":"Q","s":"e","t":540,"v":-62},{"p":"Q","s":"e","t":545,"v":-50},{"p":"Q","s":"e","t":550,"v":-30},{"p":"Q","s":"e","t":555,"v":-25},{"p":"Q","s":"e","t":560,"v":-10},{"p":"Q","s":"e","t":565,"v":-20},{"p":"Q","s":"e","t":570,"v":-40},{"p":"Q","s":"e","t":575,"v":-50},{"p":"Q","s":"e","t":580,"v":-62},{"p":"Q","s":"e","t":585,"v":-55},{"p":"Q","s":"e","t":590,"v":-45},{"p":"Q","s":"e","t":595,"v":-40},{"p":"Q","s":"e","t":600,"v":8},{"p":"Q","s":"e","t":605,"v":20},{"p":"Q","s":"e","t":610,"v":25},{"p":"Q","s":"e","t":615,"v":37},{"p":"Q","s":"e","t":620,"v":20},{"p":"Q","s":"e","t":625,"v":10},{"p":"Q","s":"e","t":630,"v":25},{"p":"Q","s":"e","t":635,"v":40},{"p":"Q","s":"e","t":640,"v":65},{"p":"Q","s":"e","t":645,"v":30},{"p":"Q","s":"e","t":650,"v":15},{"p":"Q","s":"e","t":655,"v":35},{"p":"Q","s":"e","t":660,"v":40},{"p":"Q","s":"e","t":665,"v":20},{"p":"Q","s":"e","t":670,"v":30},{"p":"Q","s":"e","t":675,"v":45},{"p":"Q","s":"e","t":680,"v":25},{"p":"Q","s":"e","t":685,"v":40},{"p":"Q","s":"e","t":688,"v":50}
]
},
"data": {"name": "d"},
"resolve": {"scale": {"color": "independent", "strokeDash": "independent"}},
"vconcat": [
{
 "width": 744, "height": 178,
 "title": {"text": "Data validation", "frame": "group", "anchor": "middle", "offset": 14},
 "transform": [{"filter": "datum.p == 'I'"}],
 "layer": [
  {
   "mark": {"type": "line", "strokeWidth": 2.5, "clip": true},
   "encoding": {
    "x": {"field": "t", "type": "quantitative", "scale": {"domain": [0, 688], "nice": false, "zero": false},
          "axis": {"orient": "bottom", "values": [0,100,200,300,400,500,600], "labels": false, "title": null, "grid": true}},
    "y": {"field": "v", "type": "quantitative", "scale": {"domain": [-550, 950], "nice": false, "zero": false},
          "axis": {"orient": "left", "values": [-500,0,500], "format": "d", "title": "Channel I [bit]", "grid": true}},
    "color": {"field": "s", "type": "nominal", "scale": {"domain": ["m","s","e"], "range": ["#000000","#ff0000","#0000ff"]}, "legend": null},
    "strokeDash": {"field": "s", "type": "nominal", "scale": {"domain": ["m","s","e"], "range": [[1,0],[1,0],[10,6]]}, "legend": null}
   }
  },
  {
   "mark": {"type": "point", "opacity": 0},
   "encoding": {
    "x": {"field": "t", "type": "quantitative", "axis": {"orient": "top", "values": [0,100,200,300,400,500,600], "labels": false, "title": null, "grid": false}},
    "y": {"field": "v", "type": "quantitative", "axis": {"orient": "right", "values": [-500,0,500], "labels": false, "title": null, "grid": false}}
   }
  }
 ],
 "resolve": {"axis": {"x": "independent", "y": "independent"}}
},
{
 "width": 744, "height": 178,
 "transform": [{"filter": "datum.p == 'Q'"}],
 "layer": [
  {
   "mark": {"type": "line", "strokeWidth": 2.5, "clip": true},
   "encoding": {
    "x": {"field": "t", "type": "quantitative", "scale": {"domain": [0, 688], "nice": false, "zero": false},
          "axis": {"orient": "bottom", "values": [0,100,200,300,400,500,600], "title": "Time during flattop [µs]", "grid": true, "labelPadding": 8, "titlePadding": 2}},
    "y": {"field": "v", "type": "quantitative", "scale": {"domain": [-500, 1000], "nice": false, "zero": false},
          "axis": {"orient": "left", "values": [-500,0,500,1000], "format": "d", "title": "Channel Q [bit]", "grid": true}},
    "color": {"field": "s", "type": "nominal", "scale": {"domain": ["m","s","e"], "range": ["#000000","#ff0000","#0000ff"]},
              "legend": {"orient": "none", "legendX": 181, "legendY": -45, "title": null, "labelExpr": "datum.value == 'm' ? 'Yₘₑₐₛ' : datum.value == 's' ? 'Yₛᵢₘ' : 'Error'"}},
    "strokeDash": {"field": "s", "type": "nominal", "scale": {"domain": ["m","s","e"], "range": [[1,0],[1,0],[10,6]]},
              "legend": {"orient": "none", "legendX": 181, "legendY": -45, "title": null, "labelExpr": "datum.value == 'm' ? 'Yₘₑₐₛ' : datum.value == 's' ? 'Yₛᵢₘ' : 'Error'"}}
   }
  },
  {
   "mark": {"type": "point", "opacity": 0},
   "encoding": {
    "x": {"field": "t", "type": "quantitative", "axis": {"orient": "top", "values": [0,100,200,300,400,500,600], "labels": false, "title": null, "grid": false}},
    "y": {"field": "v", "type": "quantitative", "axis": {"orient": "right", "values": [-500,0,500,1000], "labels": false, "title": null, "grid": false}}
   }
  }
 ],
 "resolve": {"axis": {"x": "independent", "y": "independent"}}
}
],
"config": {
 "font": "Liberation Serif",
 "background": "#ffffff",
 "view": {"stroke": "#000000", "strokeWidth": 1},
 "title": {"font": "Liberation Serif", "fontSize": 22, "fontWeight": "normal", "color": "#000000"},
 "axis": {"labelFont": "Liberation Serif", "titleFont": "Liberation Serif", "labelFontSize": 23, "titleFontSize": 23, "titleFontWeight": "normal", "labelColor": "#000000", "titleColor": "#000000", "domain": false, "tickColor": "#000000", "tickSize": -5, "tickWidth": 1, "gridColor": "#333333", "gridDash": [1,4], "gridWidth": 1, "gridOpacity": 1, "labelPadding": 4, "titlePadding": 13},
 "legend": {"symbolType": "stroke", "symbolSize": 2704, "symbolStrokeWidth": 2.5, "clipHeight": 24, "rowPadding": 13, "labelFont": "Liberation Serif", "labelFontSize": 23, "labelColor": "#000000", "labelOffset": 6, "padding": 11, "fillColor": "#ffffff", "strokeColor": "#000000"}
}
}
